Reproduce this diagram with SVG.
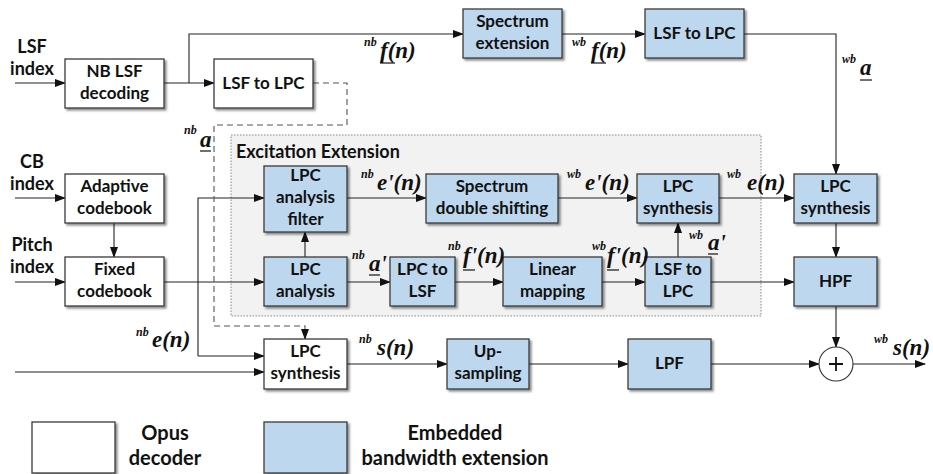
<svg xmlns="http://www.w3.org/2000/svg" width="933" height="474" viewBox="0 0 933 474">
<defs>
<marker id="arr" markerUnits="userSpaceOnUse" markerWidth="11" markerHeight="8" refX="10" refY="4" orient="auto"><path d="M0,0 L11,4 L0,8 z" fill="#111"/></marker>
<filter id="sh" x="-10%" y="-10%" width="130%" height="140%"><feDropShadow dx="2" dy="2" stdDeviation="1.2" flood-color="#000" flood-opacity="0.45"/></filter>
<style>
.bw{fill:#fff;stroke:#3a3a3a;stroke-width:1.3;filter:url(#sh)}
.bb{fill:#bdd7ee;stroke:#3a3a3a;stroke-width:1.3;filter:url(#sh)}
.t{font-family:Lato,"Open Sans",sans-serif;font-weight:bold;font-size:17px;fill:#111;text-anchor:middle}
.lg{font-size:20px}
.in{font-size:18px}
.c{fill:none;stroke:#222;stroke-width:1.1;marker-end:url(#arr)}
.d{stroke-dasharray:6 4;stroke:#555}
.m{font-family:"Liberation Serif","DejaVu Serif","Times New Roman",serif;font-weight:bold;font-style:italic;font-size:23px;fill:#111}
.s{font-family:"Liberation Serif","DejaVu Serif","Times New Roman",serif;font-weight:bold;font-style:italic;font-size:12px;fill:#111}
.u{stroke:#111;stroke-width:1.2}
</style>
</defs>
<rect x="231" y="135" width="530" height="181" fill="#f2f2f2" stroke="#888" stroke-width="1" stroke-dasharray="1.5 1.5"/>
<text class="t" x="236" y="158" style="text-anchor:start;font-size:18px">Excitation Extension</text>

<g id="connectors">
<path class="c" d="M15 83 H65"/>
<path class="c" d="M164 83 H214"/>
<path class="c" d="M189 83 V34 H463"/>
<path class="c" d="M562 34 H645"/>
<path class="c" d="M744 34 H836 V174"/>
<path class="c" d="M15 198 H65"/>
<path class="c" d="M15 282 H65"/>
<path class="c" d="M114 223 V257"/>
<path class="c" d="M164 282 H264"/>
<path class="c" d="M305 257 V232"/>
<path class="c" d="M198 356 V198 H264"/>
<path class="c" d="M198 356 H264"/>
<path class="c" d="M15 372 H264"/>
<path class="c" d="M347 198 H426"/>
<path class="c" d="M558 198 H637"/>
<path class="c" d="M719 198 H794"/>
<path class="c" d="M347 282 H390"/>
<path class="c" d="M455 282 H503"/>
<path class="c" d="M602 282 H645"/>
<path class="c" d="M678 257 V223"/>
<path class="c" d="M711 282 H794"/>
<path class="c" d="M836 223 V257"/>
<path class="c" d="M836 306 V347"/>
<path class="c" d="M347 364 H447"/>
<path class="c" d="M529 364 H628"/>
<path class="c" d="M711 364 H819"/>
<path class="c" d="M853 364 H925"/>
<path class="c d" d="M313 83 H347 V125 H214 V326 H305 V339"/>
</g>

<g id="input-labels">
<text class="t in" x="32" y="53">LSF</text><text class="t in" x="32" y="75">index</text>
<text class="t in" x="32" y="168">CB</text><text class="t in" x="32" y="190">index</text>
<text class="t in" x="32" y="251">Pitch</text><text class="t in" x="32" y="273">index</text>
</g>

<g id="nb-lsf-decoding"><rect class="bw" x="65" y="59" width="99" height="49"/><text class="t" x="114.5" y="77">NB LSF</text><text class="t" x="114.5" y="99">decoding</text></g>
<g id="lsf-to-lpc-nb"><rect class="bw" x="214" y="59" width="99" height="49"/><text class="t" x="263.5" y="89">LSF to LPC</text></g>
<g id="spectrum-extension"><rect class="bb" x="463" y="9" width="99" height="49"/><text class="t" x="512.5" y="27">Spectrum</text><text class="t" x="512.5" y="49">extension</text></g>
<g id="lsf-to-lpc-wb"><rect class="bb" x="645" y="9" width="99" height="49"/><text class="t" x="694.5" y="39">LSF to LPC</text></g>
<g id="adaptive-codebook"><rect class="bw" x="65" y="174" width="99" height="49"/><text class="t" x="114.5" y="192">Adaptive</text><text class="t" x="114.5" y="214">codebook</text></g>
<g id="fixed-codebook"><rect class="bw" x="65" y="257" width="99" height="49"/><text class="t" x="114.5" y="275">Fixed</text><text class="t" x="114.5" y="297">codebook</text></g>
<g id="lpc-analysis-filter"><rect class="bb" x="264" y="166" width="83" height="66"/><text class="t" x="305.5" y="181">LPC</text><text class="t" x="305.5" y="203">analysis</text><text class="t" x="305.5" y="225">filter</text></g>
<g id="lpc-analysis"><rect class="bb" x="264" y="257" width="83" height="49"/><text class="t" x="305.5" y="275">LPC</text><text class="t" x="305.5" y="297">analysis</text></g>
<g id="spectrum-double-shifting"><rect class="bb" x="426" y="174" width="132" height="49"/><text class="t" x="492" y="192">Spectrum</text><text class="t" x="492" y="214">double shifting</text></g>
<g id="lpc-synthesis-inner"><rect class="bb" x="637" y="174" width="82" height="49"/><text class="t" x="678" y="192">LPC</text><text class="t" x="678" y="214">synthesis</text></g>
<g id="lpc-to-lsf"><rect class="bb" x="390" y="257" width="65" height="49"/><text class="t" x="422.5" y="275">LPC to</text><text class="t" x="422.5" y="297">LSF</text></g>
<g id="linear-mapping"><rect class="bb" x="503" y="257" width="99" height="49"/><text class="t" x="552.5" y="275">Linear</text><text class="t" x="552.5" y="297">mapping</text></g>
<g id="lsf-to-lpc-inner"><rect class="bb" x="645" y="257" width="66" height="49"/><text class="t" x="678" y="275">LSF to</text><text class="t" x="678" y="297">LPC</text></g>
<g id="lpc-synthesis-wb"><rect class="bb" x="794" y="174" width="83" height="49"/><text class="t" x="835.5" y="192">LPC</text><text class="t" x="835.5" y="214">synthesis</text></g>
<g id="hpf"><rect class="bb" x="794" y="257" width="83" height="49"/><text class="t" x="835.5" y="287">HPF</text></g>
<g id="lpc-synthesis-nb"><rect class="bw" x="264" y="339" width="83" height="50"/><text class="t" x="305.5" y="357">LPC</text><text class="t" x="305.5" y="379">synthesis</text></g>
<g id="up-sampling"><rect class="bb" x="447" y="339" width="82" height="50"/><text class="t" x="488" y="357">Up-</text><text class="t" x="488" y="379">sampling</text></g>
<g id="lpf"><rect class="bb" x="628" y="339" width="83" height="50"/><text class="t" x="669.5" y="369">LPF</text></g>
<g id="sum"><circle cx="836" cy="364" r="17" fill="#fff" stroke="#333" stroke-width="1.1"/><path d="M829 364 H843 M836 357 V371" stroke="#111" stroke-width="1.8"/></g>

<g id="signal-labels">
<text class="s" x="364" y="46">nb</text><text class="m" x="380" y="58">f(n)</text><line class="u" x1="380" y1="63" x2="395" y2="63"/>
<text class="s" x="572" y="46">wb</text><text class="m" x="591" y="58">f(n)</text><line class="u" x1="591" y1="63" x2="606" y2="63"/>
<text class="s" x="842" y="63">wb</text><text class="m" x="860" y="75">a</text><line class="u" x1="860" y1="80" x2="872" y2="80"/>
<text class="s" x="184" y="134">nb</text><text class="m" x="200" y="147">a</text><line class="u" x1="200" y1="151" x2="211" y2="151"/>
<text class="s" x="361" y="178">nb</text><text class="m" x="377" y="190">e'(n)</text>
<text class="s" x="567" y="178">wb</text><text class="m" x="585" y="190">e'(n)</text>
<text class="s" x="727" y="178">wb</text><text class="m" x="747" y="190">e(n)</text>
<text class="s" x="352" y="259">nb</text><text class="m" x="369" y="271">a'</text><line class="u" x1="369" y1="275" x2="380" y2="275"/>
<text class="s" x="448" y="250">nb</text><text class="m" x="463" y="263">f'(n)</text><line class="u" x1="463" y1="270" x2="475" y2="270"/>
<text class="s" x="592" y="250">wb</text><text class="m" x="607" y="263">f'(n)</text><line class="u" x1="607" y1="270" x2="619" y2="270"/>
<text class="s" x="689" y="239">wb</text><text class="m" x="708" y="250">a'</text><line class="u" x1="708" y1="254" x2="718" y2="254"/>
<text class="s" x="136" y="336">nb</text><text class="m" x="152" y="347">e(n)</text>
<text class="s" x="359" y="343">nb</text><text class="m" x="377" y="355">s(n)</text>
<text class="s" x="874" y="343">wb</text><text class="m" x="893" y="355">s(n)</text>
</g>

<g id="legend-opus"><rect class="bw" x="32" y="422" width="83" height="51"/><text class="t lg" x="165" y="440">Opus</text><text class="t lg" x="165" y="465">decoder</text></g>
<g id="legend-ebe"><rect class="bb" x="264" y="422" width="83" height="51"/><text class="t lg" x="455" y="440">Embedded</text><text class="t lg" x="455" y="465">bandwidth extension</text></g>
</svg>
